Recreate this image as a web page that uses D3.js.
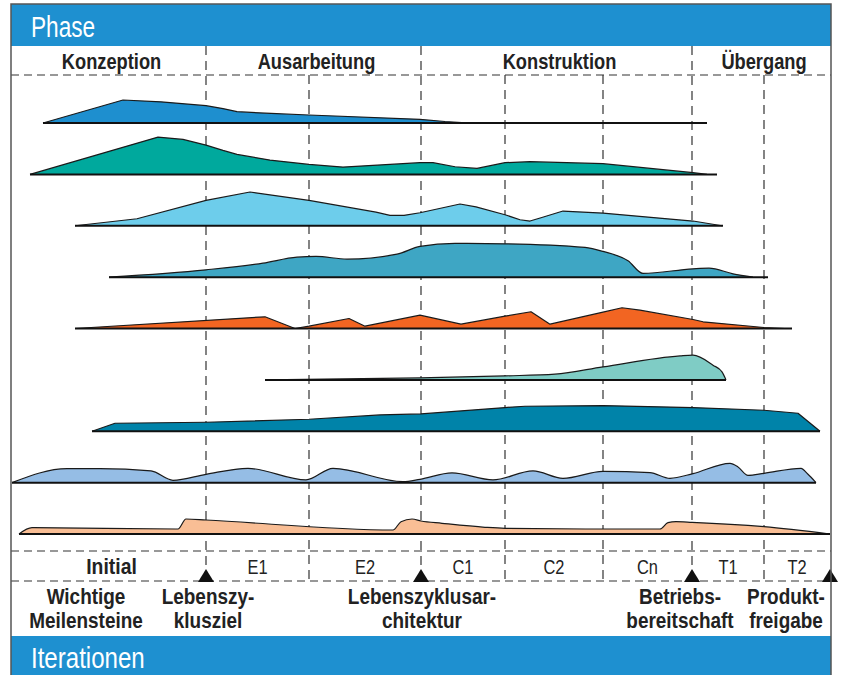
<!DOCTYPE html>
<html>
<head>
<meta charset="utf-8">
<script src="https://cdn.jsdelivr.net/npm/d3@7"></script>
<style>
  html, body { margin: 0; padding: 0; background: #fff; }
  svg { display: block; font-family: "Liberation Sans", Arial, sans-serif; }
</style>
</head>
<body>
<svg id="chart" width="845" height="675"></svg>
<script>
// Project timeline in days, phases and iterations
const phases = ["Konzeption", "Ausarbeitung", "Konstruktion", "Übergang"];
const phaseEnds = [195, 410, 681, 819];
const iterations = ["Initial", "E1", "E2", "C1", "C2", "Cn", "T1", "T2"];
const iterationEnds = [195, 298, 410, 494, 592, 681, 753, 819];
const milestoneLabels = [
  ["Lebenszy-", "klusziel"],
  ["Lebenszyklusar-", "chitektur"],
  ["Betriebs-", "bereitschaft"],
  ["Produkt-", "freigabe"]
];

// Disciplines, top to bottom
const disciplines = [
  "Geschäftsmodellierung", "Anforderungen", "Analyse & Design", "Implementierung",
  "Test", "Verteilung", "Konfigurations- & Änderungsmanagement", "Projektmanagement", "Umgebung"
];

// Effort profiles: [day, effort]
const geschaeftsmodellierung = [[32,0],[112,5.75],[150,5.3],[195,4.33],[212,3.6],[226,2.83],[260,2.4],[298,2.0],[409,0.93],[434,0.38],[459,0]];
const anforderungen = [[19,0],[147,9.33],[172,8.75],[195,7.33],[212,6.0],[226,5.0],[259,3.58],[298,2.5],[332,1.83],[409,2.93],[422,2.93],[444,1.9],[466,1.5],[494,2.93],[519,3.18],[592,2.68],[682,0.43],[696,0]];
const analyseDesign = [[64,0],[126,1.75],[195,6.33],[239,8.43],[298,6.33],[365,3.4],[379,2.58],[393,2.6],[409,3.25],[449,5.43],[465,4.7],[494,2.75],[509,1.5],[519,1.18],[530,2.0],[552,3.68],[592,3.18],[682,1.18],[711,0]];
const implementierung = [[98,0],[195,1.83],[252,3.5],[286,5.0],[305,5.18],[336,4.5],[386,5.75],[409,7.68],[444,8.43],[494,8.33],[574,7.43],[592,6.43],[617,4.08],[632,0.93],[682,2.08],[698,2.25],[722,0.83],[742,0]];
const test = [[64,0],[254,2.93],[284,0],[298,0.58],[338,2.5],[354,0.58],[409,3.33],[450,1.08],[494,3.08],[520,4.18],[539,1.08],[592,4.08],[611,5.18],[629,4.58],[682,2.25],[692,1.68],[753,0.25],[774,0]];
const verteilung = [[254,0],[409,0.5],[494,1.0],[544,1.43],[592,3.25],[669,6.0],[682,6.18],[702,3.68],[711,2.0],[715,0]];
const konfiguration = [[81,0],[104,2.0],[195,2.25],[298,3.0],[369,4.08],[410,4.33],[494,5.93],[514,6.25],[592,6.43],[682,5.93],[753,5.25],[787,4.5],[809,0]];
const projektmanagement = [[1,0],[56,3.5],[89,3.5],[140,2.93],[162,0.58],[195,2.08],[237,3.58],[295,0.68],[322,3.58],[392,0.25],[409,0.83],[441,2.43],[482,0.68],[522,2.93],[552,1.08],[592,2.83],[639,2.5],[659,1.08],[682,2.25],[719,4.83],[727,3.93],[737,1.83],[753,2.33],[790,3.58],[797,2.08],[805,0]];
const umgebung = [[8,0],[21,1.58],[167,1.25],[175,3.75],[195,3.5],[382,1.0],[390,3.08],[401,3.75],[410,3.25],[431,2.68],[474,1.68],[494,1.43],[592,1.25],[649,1.25],[657,2.83],[665,3.08],[681,2.93],[753,1.83],[819,0]];

const profiles = [geschaeftsmodellierung, anforderungen, analyseDesign, implementierung, test, verteilung, konfiguration, projektmanagement, umgebung];
const baselineEnds = [696, 706, 712, 757, 781, 715, 809, 805, 819];
const colors = ["#1e8fcf", "#00a99d", "#6dcdeb", "#3ea6c4", "#f26522", "#7fccc5", "#0083a9", "#95bde5", "#f9be95"];

// ---- layout ----
const W = 845, H = 675;
const frame = { left: 11, right: 831, top: 4 };
const bandBlue = "#1e90d0";
const dashColor = "#333";
// curve style per row: pointed ridges vs. rounded shoulders
const curves = [d3.curveLinear, d3.curveLinear, d3.curveLinear, d3.curveMonotoneX, d3.curveLinear,
                d3.curveMonotoneX, d3.curveLinear, d3.curveMonotoneX, d3.curveMonotoneX];

const svg = d3.select("#chart");
const x = d3.scaleLinear().domain([0, 819]).range([11, 830]);
const rowY = d3.scalePoint().domain(disciplines).range([123, 534]);
const effort = d3.scaleLinear().domain([0, 10]).range([0, 40]);

const bold = "bold";
function condense(sel, k) {
  sel.each(function () {
    const w = this.getComputedTextLength();
    d3.select(this).attr("textLength", w * k).attr("lengthAdjust", "spacingAndGlyphs");
  });
}

// Header and footer bands
svg.append("rect").attr("x", frame.left).attr("y", frame.top).attr("width", frame.right - frame.left).attr("height", 42).attr("fill", bandBlue);
svg.append("rect").attr("x", frame.left).attr("y", 636).attr("width", frame.right - frame.left).attr("height", H - 636).attr("fill", bandBlue);

svg.append("text").attr("x", 31).attr("y", 37).attr("fill", "#fff").attr("font-size", 29).text("Phase").call(condense, 0.78);
svg.append("text").attr("x", 31).attr("y", 668).attr("fill", "#fff").attr("font-size", 29).text("Iterationen").call(condense, 0.83);

// Grid: horizontal dashed rules
[75, 551, 581].forEach(yv => {
  svg.append("line").attr("x1", frame.left).attr("x2", frame.right).attr("y1", yv).attr("y2", yv)
    .attr("stroke", dashColor).attr("stroke-width", 1.2).attr("stroke-dasharray", "8,5");
});

// Grid: vertical dashed rules at iteration boundaries
const innerEnds = iterationEnds.slice(0, -1);
svg.append("g").selectAll("line").data(innerEnds).join("line")
  .attr("x1", d => x(d)).attr("x2", d => x(d))
  .attr("y1", d => phaseEnds.includes(d) ? 46 : 75).attr("y2", 581)
  .attr("stroke", dashColor).attr("stroke-width", 1.2).attr("stroke-dasharray", "9,6");

// Phase labels
const phaseStarts = [0].concat(phaseEnds.slice(0, -1));
svg.append("g").selectAll("text").data(phases).join("text")
  .attr("x", (d, i) => x((phaseStarts[i] + phaseEnds[i]) / 2) + 3)
  .attr("y", 69).attr("text-anchor", "middle").attr("font-weight", bold).attr("font-size", 22).attr("fill", "#222")
  .text(d => d).call(condense, 0.83);

// Iteration labels
const iterStarts = [0].concat(iterationEnds.slice(0, -1));
svg.append("g").selectAll("text").data(iterations).join("text")
  .attr("x", (d, i) => x((iterStarts[i] + iterationEnds[i]) / 2) + (i === 0 ? 3 : 0))
  .attr("y", 574).attr("text-anchor", "middle")
  .attr("font-weight", (d, i) => i === 0 ? bold : "normal")
  .attr("font-size", (d, i) => i === 0 ? 22 : 20).attr("fill", "#222")
  .text(d => d)
  .each(function (d, i) { d3.select(this).call(condense, i === 0 ? 0.88 : 0.82); });

// Effort humps
const rows = svg.append("g").selectAll("g").data(disciplines).join("g")
  .attr("transform", d => `translate(0,${rowY(d)})`);
rows.append("path").attr("d", (d, i) => d3.area().curve(curves[i])
    .x(p => x(p[0])).y0(0).y1(p => -effort(p[1]))(profiles[i]))
  .attr("fill", (d, i) => colors[i]);
rows.append("path").attr("d", (d, i) => d3.line().curve(curves[i])
    .x(p => x(p[0])).y(p => -effort(p[1]))(profiles[i]))
  .attr("fill", "none").attr("stroke", "#1a1a1a").attr("stroke-width", 1.2).attr("stroke-linejoin", "round");
rows.append("line")
  .attr("x1", (d, i) => x(profiles[i][0][0])).attr("x2", (d, i) => x(baselineEnds[i]))
  .attr("y1", 0).attr("y2", 0).attr("stroke", "#111").attr("stroke-width", 2);

// Milestones
const labelShift = [2, 1, -12, -44];
const ms = svg.append("g").selectAll("g").data(phaseEnds).join("g")
  .attr("transform", d => `translate(${x(d)},581)`);
ms.append("path").attr("d", "M-8,1L0,-12L8,1Z").attr("fill", "#111");

const msLabels = [["Wichtige", "Meilensteine"]].concat(milestoneLabels);
const msX = [86].concat(phaseEnds.map((d, i) => x(d) + labelShift[i]));
msLabels.forEach((lines, i) => {
  lines.forEach((t, j) => {
    svg.append("text").attr("x", msX[i]).attr("y", 604 + j * 24).attr("text-anchor", "middle")
      .attr("font-weight", bold).attr("font-size", 22).attr("fill", "#222").text(t).call(condense, 0.86);
  });
});

// Outer frame
svg.append("rect").attr("x", frame.left).attr("y", frame.top).attr("width", frame.right - frame.left).attr("height", H)
  .attr("fill", "none").attr("stroke", "#555").attr("stroke-width", 1.5);
</script>
</body>
</html>
